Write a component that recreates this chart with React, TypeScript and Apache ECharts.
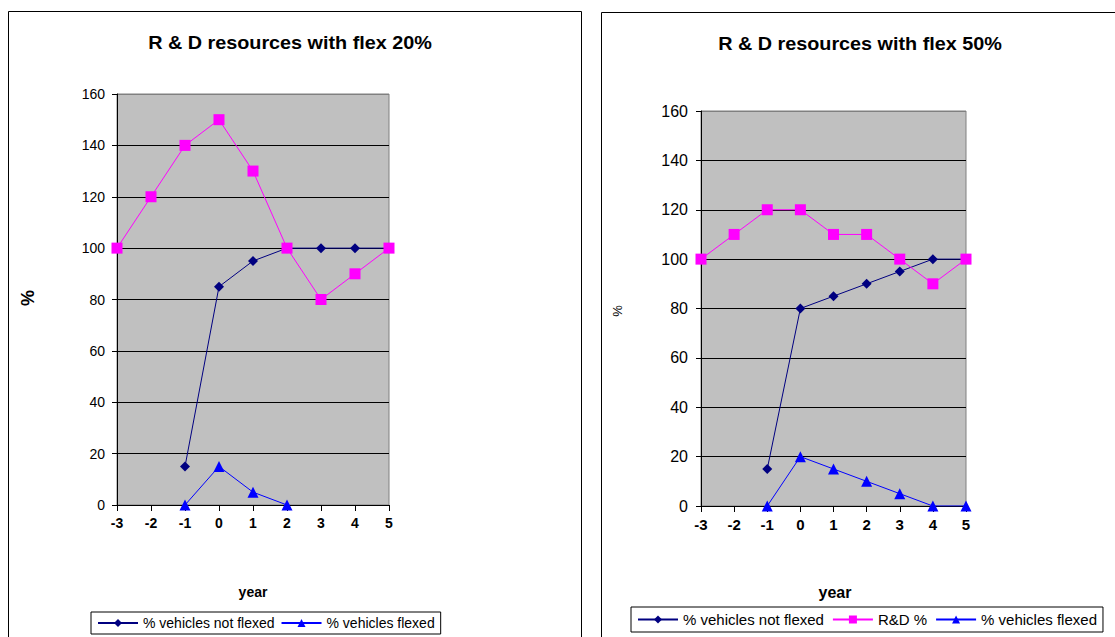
import React, { useEffect, useRef } from "react";
import * as echarts from "echarts";

// Years on the horizontal axis
const years = [-3, -2, -1, 0, 1, 2, 3, 4, 5];
const yTicks = [0, 20, 40, 60, 80, 100, 120, 140, 160];

// Flex 20% scenario
const notFlexed20 = [null, null, 15, 85, 95, 100, 100, 100, 100];
const rd20 = [100, 120, 140, 150, 130, 100, 80, 90, 100];
const flexed20 = [null, null, 0, 15, 5, 0, null, null, null];

// Flex 50% scenario
const notFlexed50 = [null, null, 15, 80, 85, 90, 95, 100, 100];
const rd50 = [100, 110, 120, 120, 110, 110, 100, 90, 100];
const flexed50 = [null, null, 0, 20, 15, 10, 5, 0, 0];

const NAME_NOT = "% vehicles not flexed";
const NAME_RD = "R&D %";
const NAME_FLEX = "% vehicles flexed";

const FONT = "Liberation Sans, Arial, sans-serif";

const pairs = (vals: (number | null)[]) =>
  years.map((y, i) => [y, vals[i]] as [number, number | null]).filter((p) => p[1] !== null);

function xAxisFor(idx: number, fontSize: number) {
  return {
    type: "value",
    gridIndex: idx,
    min: -3,
    max: 5,
    interval: 1,
    axisLine: { show: true, onZero: false, lineStyle: { color: "#000", width: 1 } },
    axisTick: { show: true, length: 6, lineStyle: { color: "#000" } },
    axisLabel: { color: "#000", fontFamily: FONT, fontSize, fontWeight: "bold", margin: 11 },
    splitLine: { show: false },
  };
}

function yAxisFor(idx: number, fontSize: number, margin: number) {
  return {
    type: "value",
    gridIndex: idx,
    min: yTicks[0],
    max: yTicks[yTicks.length - 1],
    interval: 20,
    axisLine: { show: true, onZero: false, lineStyle: { color: "#000", width: 1 } },
    axisTick: { show: true, length: 5, lineStyle: { color: "#000" } },
    axisLabel: { color: "#000", fontFamily: FONT, fontSize, margin },
    splitLine: {
      show: true,
      lineStyle: {
        color: yTicks.map((_, i) => (i === yTicks.length - 1 ? "#808080" : "#000")),
        width: 1,
      },
    },
  };
}

function seriesFor(idx: number, not: (number | null)[], rd: (number | null)[], flex: (number | null)[]) {
  return [
    {
      name: NAME_NOT,
      type: "line",
      xAxisIndex: idx,
      yAxisIndex: idx,
      data: pairs(not),
      symbol: "diamond",
      symbolSize: 10,
      lineStyle: { color: "#000080", width: 1 },
      itemStyle: { color: "#000080" },
    },
    {
      name: NAME_RD,
      type: "line",
      xAxisIndex: idx,
      yAxisIndex: idx,
      data: pairs(rd),
      symbol: "rect",
      symbolSize: 11,
      lineStyle: { color: "#ff00ff", width: 1 },
      itemStyle: { color: "#ff00ff" },
    },
    {
      name: NAME_FLEX,
      type: "line",
      xAxisIndex: idx,
      yAxisIndex: idx,
      data: pairs(flex),
      symbol: "triangle",
      symbolSize: 11,
      lineStyle: { color: "#0000ff", width: 1 },
      itemStyle: { color: "#0000ff" },
    },
  ];
}

function legendFor(left: number, top: number, fontSize: number, gap: number, pad: number, data: string[]) {
  return {
    left,
    top,
    data,
    orient: "horizontal",
    itemWidth: 40,
    itemHeight: 10,
    itemGap: gap,
    padding: [pad, 6, pad, 6],
    borderColor: "#000",
    borderWidth: 1,
    backgroundColor: "#fff",
    textStyle: { color: "#000", fontFamily: FONT, fontSize },
    selectedMode: false,
  };
}

export default function App() {
  const ref = useRef<HTMLDivElement>(null);

  useEffect(() => {
    if (!ref.current) return;
    const chart = echarts.init(ref.current, undefined, { renderer: "svg" });
    chart.setOption({
      animation: false,
      backgroundColor: "#fff",
      grid: [
        { left: 117, top: 94, width: 272, height: 411, show: true, backgroundColor: "#c0c0c0", borderColor: "#808080", borderWidth: 1 },
        { left: 701, top: 111, width: 265, height: 395, show: true, backgroundColor: "#c0c0c0", borderColor: "#808080", borderWidth: 1 },
      ],
      xAxis: [xAxisFor(0, 14), xAxisFor(1, 15)],
      yAxis: [yAxisFor(0, 14, 12), yAxisFor(1, 16, 13)],
      legend: [
        legendFor(91, 612, 14, 6, 4, [NAME_NOT, NAME_FLEX]),
        legendFor(631, 607, 15, 8, 5, [NAME_NOT, NAME_RD, NAME_FLEX]),
      ],
      series: [
        ...seriesFor(0, notFlexed20, rd20, flexed20),
        ...seriesFor(1, notFlexed50, rd50, flexed50),
      ],
      graphic: [
        // chart frames
        { type: "rect", silent: true, z: -1, shape: { x: 8.5, y: 11.5, width: 573, height: 640 }, style: { fill: "none", stroke: "#000", lineWidth: 1 } },
        { type: "rect", silent: true, z: -1, shape: { x: 601.5, y: 12.5, width: 530, height: 640 }, style: { fill: "none", stroke: "#000", lineWidth: 1 } },
        // titles
        { type: "text", x: 290, y: 43, scaleX: 1.1, style: { text: "R & D resources with flex 20%", align: "center", verticalAlign: "middle", font: `bold 18px ${FONT}`, fill: "#000" } },
        { type: "text", x: 860, y: 44, scaleX: 1.1, style: { text: "R & D resources with flex 50%", align: "center", verticalAlign: "middle", font: `bold 18px ${FONT}`, fill: "#000" } },
        // axis names
        { type: "text", x: 253, y: 592, style: { text: "year", align: "center", verticalAlign: "middle", font: `bold 14px ${FONT}`, fill: "#000" } },
        { type: "text", x: 835, y: 592, style: { text: "year", align: "center", verticalAlign: "middle", font: `bold 16px ${FONT}`, fill: "#000" } },
        { type: "text", x: 28, y: 298, rotation: Math.PI / 2, style: { text: "%", align: "center", verticalAlign: "middle", font: `bold 18px ${FONT}`, fill: "#000" } },
        { type: "text", x: 617, y: 311, rotation: Math.PI / 2, style: { text: "%", align: "center", verticalAlign: "middle", font: `13px ${FONT}`, fill: "#000" } },
      ],
    });
    return () => chart.dispose();
  }, []);

  return (
    <div
      ref={ref}
      style={{ position: "absolute", left: 0, top: 0, width: 1115, height: 637 }}
    />
  );
}
